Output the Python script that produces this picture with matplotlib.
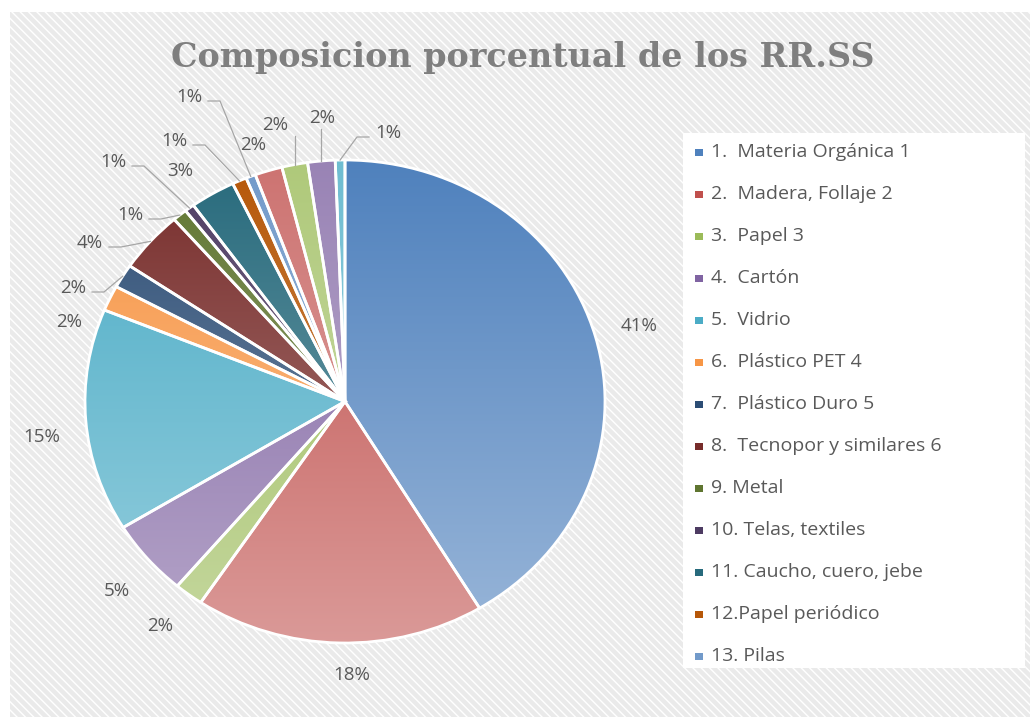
import numpy as np
import matplotlib
matplotlib.use('Agg')
import matplotlib.pyplot as plt
from matplotlib.patches import Rectangle
from matplotlib.colors import to_rgb

# porcentajes por tipo de residuo (en el sentido del reloj desde arriba)
valores = [41.3, 18.0, 1.8, 5.1, 14.9, 1.7, 1.6, 4.1, 0.9, 0.6, 2.8, 0.9, 0.6, 1.7, 1.6, 1.7, 0.6]
etiquetas = ['%d%%' % round(v) for v in valores]

# solo los 13 primeros aparecen en la leyenda (la leyenda esta cortada)
nombres = ['1.  Materia Orgánica 1', '2.  Madera, Follaje 2', '3.  Papel 3', '4.  Cartón',
           '5.  Vidrio', '6.  Plástico PET 4', '7.  Plástico Duro 5',
           '8.  Tecnopor y similares 6', '9. Metal', '10. Telas, textiles',
           '11. Caucho, cuero, jebe', '12.Papel periódico', '13. Pilas']

colores = ['#4F81BD', '#C0504D', '#9BBB59', '#8064A2', '#4BACC6', '#F79646',
           '#2C4D75', '#772C2A', '#5F7530', '#4D3B62', '#276A7C', '#B65708',
           '#729ACA', '#CD7371', '#AFC97A', '#9983B5', '#6FBDD1']

# posicion de cada etiqueta en pixeles (x, y desde arriba) y si lleva linea guia
pos_etiquetas = [(639, 326), (352, 675), (160, 626), (117, 591), (42, 437), (69, 322),
                 (73, 288), (90, 243), (130, 215), (113, 162), (180, 171), (174, 141),
                 (189, 97), (253, 145), (275, 125), (322, 118), (388, 133)]
con_linea = [False, False, False, False, False, False, True, True, True, True, False,
             True, True, False, True, True, True]

W, H = 1030, 717
gris = '#595959'
fuente = 'Open Sans'

fig = plt.figure(figsize=(W / 100, H / 100), dpi=100)

# fondo gris rayado
fondo = Rectangle((10 / W, 0), (W - 10) / W, (H - 12) / H, transform=fig.transFigure,
                  facecolor='#eaeaea', edgecolor='white', hatch='\\\\\\\\', linewidth=0,
                  zorder=-5)
fig.patches.append(fondo)

# pie (un poco ovalado como en la imagen)
cx, cy, rx, ry = 345, 401.5, 260, 241.5
ax = fig.add_axes([(cx - rx) / W, (H - cy - ry) / H, 2 * rx / W, 2 * ry / H])
wedges, _ = ax.pie(valores, startangle=90, counterclock=False, radius=1,
                   wedgeprops=dict(edgecolor='white', linewidth=2))

grad = np.linspace(0, 1, 256)[:, None, None]
for w, c in zip(wedges, colores):
    rgb = np.array(to_rgb(c))[None, None, :]
    img = rgb * (1 - 0.42 * grad) + 0.42 * grad
    im = ax.imshow(img, extent=(-1, 1, -1, 1), origin='upper', aspect='auto', zorder=1)
    im.set_clip_path(w)
    w.set_facecolor('none')
    w.set_zorder(2)
ax.set_aspect('auto')
ax.set_xlim(-1, 1)
ax.set_ylim(-1, 1)
ax.axis('off')

# capa en pixeles para textos, lineas y leyenda
ov = fig.add_axes([0, 0, 1, 1])
ov.set_xlim(0, W)
ov.set_ylim(H, 0)
ov.axis('off')
ov.patch.set_visible(False)

to_ov = ov.transData.inverted()
for w, txt, (lx, ly), linea in zip(wedges, etiquetas, pos_etiquetas, con_linea):
    ov.text(lx, ly, txt, ha='center', va='center', fontsize=13.5, color=gris, family=fuente)
    if not linea:
        continue
    ang = np.deg2rad((w.theta1 + w.theta2) / 2)
    wx, wy = to_ov.transform(ax.transData.transform((np.cos(ang), np.sin(ang))))
    if abs(wx - lx) < 25:
        xs, ys = [wx, wx], [ly + 11, wy]
    else:
        s = np.sign(wx - lx)
        x0 = lx + s * 19
        xs, ys = [x0, x0 + s * 12, wx], [ly + 4, ly + 4, wy]
    ov.plot(xs, ys, color='#a6a6a6', lw=0.9)

# leyenda
ov.add_patch(Rectangle((683, 133), 342, 535, facecolor='white', edgecolor='none', zorder=0.5))
for i, (nom, c) in enumerate(zip(nombres, colores)):
    y = 152 + i * 42
    ov.add_patch(Rectangle((695, y - 3.5), 7.5, 7.5, facecolor=c, edgecolor='none', zorder=1))
    ov.text(711, y, nom, ha='left', va='center', fontsize=14, color=gris, family=fuente)

fig.text(523 / W, 1 - 57 / H, 'Composicion porcentual de los RR.SS', ha='center', va='center',
         fontsize=24, fontweight='bold', family='DejaVu Serif', color='#7f7f7f')

fig.savefig('out.png', dpi=100)
